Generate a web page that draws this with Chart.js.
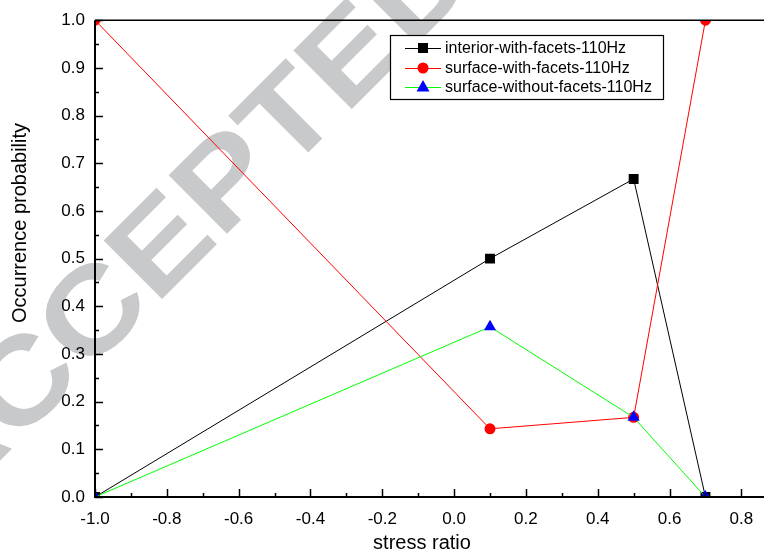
<!DOCTYPE html>
<html><head><meta charset="utf-8">
<script src="https://cdn.jsdelivr.net/npm/chart.js@4.4.0/dist/chart.umd.min.js"></script>
<style>html,body{margin:0;padding:0;background:#fff;}canvas{display:block;}</style>
</head><body>
<canvas id="c" width="771" height="555"></canvas>
<script>
const stressRatio = [-1.0, 0.1, 0.5, 0.7];
const interiorWithFacets = [0, 0.5, 0.667, 0];
const surfaceWithFacets = [1.0, 0.143, 0.167, 1.0];
const surfaceWithoutFacets = [0, 0.357, 0.167, 0];
const seriesNames = ['interior-with-facets-110Hz','surface-with-facets-110Hz','surface-without-facets-110Hz'];
const xTitle = 'stress ratio';
const yTitle = 'Occurrence probability';
const watermark = 'ACCEPTED';

const FONT = '"Liberation Sans", Arial, sans-serif';
function pts(ys){ return stressRatio.map((x,i)=>({x:x,y:ys[i]})); }

const bgPlugin = {
  id:'bg',
  beforeDraw(chart){
    const ctx = chart.ctx;
    ctx.save();
    ctx.fillStyle = '#fff';
    ctx.fillRect(0,0,chart.width,chart.height);
    ctx.translate(167,247);
    ctx.rotate(-45*Math.PI/180);
    ctx.scale(1.15,1);
    ctx.fillStyle = '#c8c9cb';
    ctx.font = 'bold 120px ' + FONT;
    ctx.textAlign = 'left';
    ctx.textBaseline = 'middle';
    ctx.fillText(watermark, -303, 0);
    ctx.restore();
  }
};

const decoPlugin = {
  id:'deco',
  afterDraw(chart){
    const ctx = chart.ctx, a = chart.chartArea;
    const xs = chart.scales.x, ys = chart.scales.y;
    ctx.save();
    ctx.strokeStyle = '#000';
    ctx.lineWidth = 2;
    ctx.beginPath();
    ctx.moveTo(a.left, a.top); ctx.lineTo(a.left, a.bottom); ctx.lineTo(a.right, a.bottom);
    ctx.stroke();
    ctx.lineWidth = 1.5;
    ctx.beginPath(); ctx.moveTo(a.left, a.top); ctx.lineTo(a.right, a.top); ctx.stroke();
    ctx.lineWidth = 1.5;
    for (let i=-10;i<=8;i++){
      const v = i/10; const px = Math.round(xs.getPixelForValue(v))+0.5;
      const len = (i%2===0)?8:4;
      ctx.beginPath(); ctx.moveTo(px, a.bottom); ctx.lineTo(px, a.bottom-len); ctx.stroke();
    }
    for (let i=0;i<=20;i++){
      const v = i/20; const py = Math.round(ys.getPixelForValue(v))+0.5;
      const len = (i%2===0)?8:4;
      ctx.beginPath(); ctx.moveTo(a.left, py); ctx.lineTo(a.left+len, py); ctx.stroke();
    }
    ctx.fillStyle = '#000';
    ctx.font = '20px ' + FONT;
    ctx.textAlign = 'center'; ctx.textBaseline = 'middle';
    ctx.fillText(xTitle, 422, 543);
    ctx.save();
    ctx.translate(20, 223); ctx.rotate(-Math.PI/2);
    ctx.fillText(yTitle, 0, 0);
    ctx.restore();
    const bx=390, by=35, bw=273, bh=64;
    ctx.fillStyle='#fff'; ctx.fillRect(bx,by,bw,bh);
    ctx.lineWidth=1.2; ctx.strokeStyle='#000'; ctx.strokeRect(bx+0.5,by+0.5,bw,bh);
    const rows=[48,68,87];
    chart.data.datasets.forEach((ds,i)=>{
      const y=rows[i];
      ctx.strokeStyle=ds.borderColor; ctx.lineWidth=1;
      ctx.beginPath(); ctx.moveTo(405,y+0.5); ctx.lineTo(441,y+0.5); ctx.stroke();
      ctx.fillStyle=ds.pointBackgroundColor;
      const cx=423;
      ctx.beginPath();
      if (ds.pointStyle==='rect'){ ctx.rect(cx-5,y-5,10,10); }
      else if (ds.pointStyle==='circle'){ ctx.arc(cx,y,5.5,0,Math.PI*2); }
      else { ctx.moveTo(cx,y-7); ctx.lineTo(cx+6.5,y+4.5); ctx.lineTo(cx-6.5,y+4.5); ctx.closePath(); }
      ctx.fill();
      ctx.fillStyle='#000'; ctx.font='16px '+FONT; ctx.textAlign='left'; ctx.textBaseline='middle';
      ctx.fillText(ds.label, 445, y+1);
    });
    ctx.restore();
  }
};

new Chart(document.getElementById('c'), {
  type:'line',
  data:{ datasets:[
    { label:seriesNames[0], data:pts(interiorWithFacets), borderColor:'#000000', backgroundColor:'#000000',
      pointBackgroundColor:'#000000', pointBorderWidth:0, pointStyle:'rect', pointRadius:7, borderWidth:1, order:2, clip:0 },
    { label:seriesNames[1], data:pts(surfaceWithFacets), borderColor:'#ff0000', backgroundColor:'#ff0000',
      pointBackgroundColor:'#ff0000', pointBorderWidth:0, pointStyle:'circle', pointRadius:5.5, borderWidth:1, order:1, clip:0 },
    { label:seriesNames[2], data:pts(surfaceWithoutFacets), borderColor:'#00ff00', backgroundColor:'#0000ff',
      pointBackgroundColor:'#0000ff', pointBorderWidth:0, pointStyle:'triangle', pointRadius:7, borderWidth:1, order:0, clip:0 }
  ]},
  options:{
    responsive:false, animation:false, devicePixelRatio:1,
    layout:{ padding:{ top:15, right:0, left:0, bottom:0 } },
    plugins:{ legend:{display:false}, tooltip:{enabled:false} },
    elements:{ line:{ tension:0 } },
    scales:{
      x:{ type:'linear', min:-1, max:0.863,
        grid:{ display:false, drawTicks:false }, border:{ display:false },
        ticks:{ stepSize:0.2, includeBounds:false, padding:12, color:'#000', font:{ family:FONT, size:17 },
          callback:(v)=>Number(v).toFixed(1), maxRotation:0, autoSkip:false },
        afterFit:(s)=>{ s.height = 58; } },
      y:{ type:'linear', min:0, max:1,
        grid:{ display:false, drawTicks:false }, border:{ display:false },
        ticks:{ stepSize:0.1, padding:10, color:'#000', font:{ family:FONT, size:17 },
          callback:(v)=>Number(v).toFixed(1), autoSkip:false },
        afterFit:(s)=>{ s.width = 95; } }
    }
  },
  plugins:[bgPlugin, decoPlugin]
});
</script>
</body></html>
